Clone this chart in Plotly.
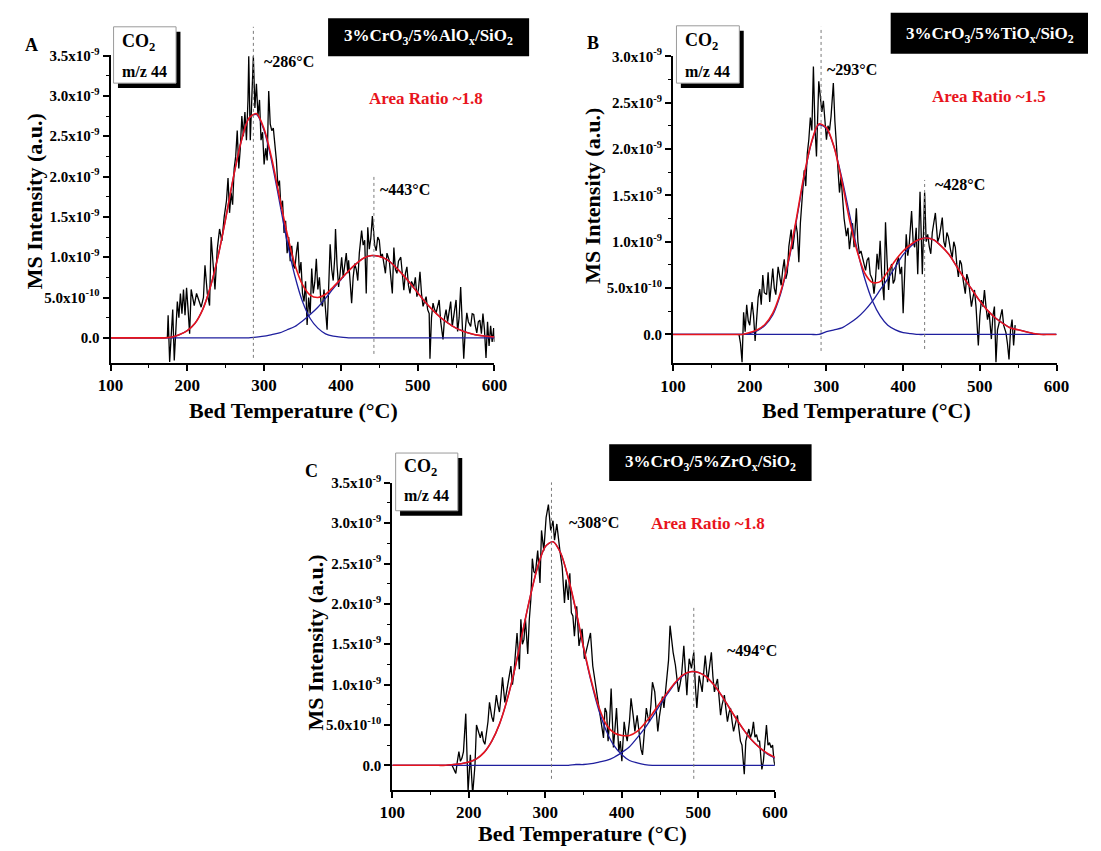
import plotly.graph_objects as go

# ---------------------------------------------------------------- data
# MS signal for CO2 (m/z 44) in units of 1e-9, versus bed temperature (°C)
A_temp = [174,175,177,179,181,183,185,187,189,191,
          193,195,197,199,201,203,205,207,209,212,
          215,218,221,223,226,229,231,234,236,239,
          242,245,248,251,253,255,257,259,261,263,
          265,267,269,271,273,275,277,279,280,282,
          284,286,288,290,292,294,296,298,300,302,
          304,306,308,310,312,314,316,318,320,322,
          324,326,328,330,332,334,336,338,340,342,
          344,346,348,350,352,354,356,358,360,362,
          364,366,368,370,372,374,376,378,380,382,
          384,386,388,390,392,393,395,397,399,401,
          403,405,407,409,410,412,414,416,418,420,
          422,424,426,427,429,431,433,435,437,439,
          441,443,444,446,448,450,452,454,456,458,
          460,463,465,467,469,471,473,475,478,480,
          482,484,486,488,490,492,495,497,499,501,
          503,505,507,509,511,513,515,516,518,520,
          522,524,526,528,530,533,535,537,539,541,
          543,545,547,550,552,554,556,558,560,562,
          564,566,569,571,573,575,577,579,581,583,
          585,587,589,591,593,595,597,599,600]
A_signal = [0.00,0.28,-0.30,0.05,0.35,-0.28,0.20,0.45,0.25,0.55,
            0.30,0.60,0.28,0.62,0.35,0.05,0.60,0.50,0.40,0.55,
            0.45,0.38,0.50,0.90,0.55,0.40,1.25,0.85,0.60,1.10,
            1.35,1.20,1.50,1.70,1.98,1.55,1.80,1.65,2.10,2.25,
            2.57,2.10,2.35,2.75,2.50,2.80,2.45,2.95,3.49,2.45,
            3.10,3.49,2.85,3.15,2.75,2.95,2.45,2.55,2.15,2.35,
            2.20,3.06,2.65,2.57,2.60,2.41,2.20,1.88,1.95,1.60,
            1.70,1.30,1.45,1.05,1.25,0.95,1.14,0.90,0.86,1.05,
            1.19,0.80,0.94,0.55,0.45,0.70,0.16,0.50,0.30,0.86,
            0.55,0.69,0.98,0.60,0.75,0.45,0.39,0.60,0.35,0.10,
            0.60,1.16,0.85,0.71,1.00,1.35,0.90,0.63,0.80,1.00,
            0.75,0.88,1.05,0.80,0.96,0.70,0.43,0.75,0.92,0.85,
            0.71,1.05,1.20,1.33,1.15,1.21,0.55,1.37,1.10,1.24,
            1.51,1.30,1.15,1.08,1.25,1.21,1.00,1.04,0.90,0.80,
            1.05,0.96,0.75,0.55,1.12,0.85,0.80,0.95,1.00,0.75,
            0.59,0.80,0.88,0.65,0.55,0.70,0.63,0.75,0.51,0.60,
            0.82,0.55,0.39,0.45,0.51,0.35,0.30,-0.26,0.25,0.43,
            0.35,0.31,0.40,0.47,0.20,-0.02,0.25,0.35,0.20,0.31,
            0.45,0.14,0.30,0.47,0.08,0.25,0.63,0.20,-0.26,0.10,
            0.31,0.20,0.14,0.30,0.29,0.15,0.06,0.20,0.22,0.05,
            0.30,0.10,-0.25,0.20,-0.10,0.15,-0.05,0.12,-0.05]

B_temp = [186,188,190,192,194,196,198,200,203,205,
          207,209,211,213,215,217,219,222,224,226,
          228,230,232,234,237,239,241,243,245,247,
          249,251,254,256,258,260,262,264,266,268,
          271,273,275,277,279,281,283,285,287,290,
          292,294,296,298,300,302,304,306,309,311,
          313,315,317,319,321,323,326,328,330,332,
          334,336,339,341,343,345,347,349,351,353,
          355,357,360,362,364,366,368,370,372,375,
          377,379,381,383,385,387,389,391,394,396,
          398,400,402,404,406,408,411,413,415,417,
          419,422,425,428,430,432,434,436,438,440,
          442,445,447,449,451,453,455,457,459,462,
          464,466,468,470,472,474,476,478,481,483,
          485,487,489,491,493,495,498,500,502,504,
          506,508,510,512,515,517,519,521,523,525,
          527,529,531,534,536,538,540,542,544,546]
B_signal = [0.00,-0.10,-0.30,0.24,0.03,0.32,0.15,0.10,0.35,0.20,
            -0.07,0.18,0.40,0.49,0.32,0.64,0.45,0.43,0.67,0.35,
            0.55,0.71,0.50,0.43,0.73,0.60,0.53,0.70,0.81,0.60,
            0.67,0.95,1.13,0.92,1.05,1.20,1.10,0.78,1.20,1.45,
            1.77,1.60,1.95,2.10,2.34,2.20,2.89,2.24,1.92,2.73,
            2.56,2.40,2.52,2.30,2.10,2.25,2.20,2.35,2.71,2.30,
            2.06,1.80,1.53,1.70,1.42,1.25,1.06,1.15,0.92,1.05,
            1.20,0.94,1.36,1.00,0.87,0.90,0.83,0.75,0.69,0.80,
            0.83,0.65,0.59,0.44,0.60,0.87,0.70,1.01,0.65,0.37,
            1.21,0.80,0.48,0.70,0.76,0.55,0.59,0.75,0.83,0.65,
            0.73,0.23,0.75,1.08,0.85,0.98,1.33,1.00,0.94,1.15,
            0.65,1.54,0.65,1.53,1.00,1.08,0.95,0.87,1.10,1.20,
            1.31,1.00,1.05,1.15,1.26,1.00,0.94,1.10,1.05,0.90,
            0.83,1.00,0.94,0.75,0.62,0.80,0.76,0.60,0.44,0.65,
            0.59,0.45,0.30,0.40,0.48,0.30,-0.12,0.20,0.37,0.30,
            0.48,0.30,0.16,0.25,-0.05,0.20,0.30,-0.30,0.05,0.12,
            0.20,0.27,0.10,0.02,-0.10,-0.27,0.05,0.16,-0.12,0.10]

C_temp = [178,181,183,185,187,189,191,193,196,199,
          202,205,208,210,213,215,217,219,221,223,
          225,227,230,232,234,236,238,240,242,244,
          247,249,251,253,255,257,259,261,263,266,
          268,270,272,274,277,279,281,283,285,287,
          290,293,295,298,301,304,307,310,312,315,
          317,319,322,325,327,330,332,334,336,338,
          341,344,348,351,355,359,362,364,366,368,
          370,372,374,376,378,380,382,384,386,389,
          391,393,396,398,400,403,405,407,410,412,
          415,417,420,423,425,427,430,432,434,436,
          438,440,443,445,447,449,451,453,455,457,
          459,461,463,465,467,470,472,474,476,478,
          481,483,485,486,488,491,494,496,498,501,
          503,505,507,509,512,514,517,519,521,523,
          525,527,529,531,534,536,538,540,542,544,
          546,548,551,553,555,557,560,562,564,566,
          568,570,572,574,576,578,580,583,585,587,
          589,591,593,595,597,599,600]
C_signal = [0.00,-0.05,-0.10,0.05,0.17,0.05,0.09,0.17,0.64,-0.32,
            0.13,-0.36,0.00,0.50,0.40,0.34,0.42,0.30,0.26,0.40,
            0.54,0.78,0.60,0.54,0.70,0.87,0.75,0.66,0.85,1.09,
            0.78,0.90,0.99,1.10,1.23,1.00,1.15,1.40,1.64,1.19,
            1.81,1.50,1.56,1.81,1.38,1.80,2.05,2.56,2.40,2.38,
            2.66,2.26,2.91,2.66,3.07,3.23,2.91,3.03,2.79,2.99,
            2.80,2.66,2.46,2.01,2.30,2.05,2.38,1.89,1.85,1.60,
            1.97,1.48,1.69,1.32,1.48,1.64,1.23,1.10,0.99,0.85,
            0.74,0.60,0.50,0.34,0.71,0.66,0.30,0.55,0.95,0.22,
            0.45,0.71,0.17,0.30,0.05,0.54,0.40,0.30,0.55,0.83,
            0.60,0.42,0.62,0.34,0.20,0.13,0.50,0.71,0.60,0.54,
            0.75,1.03,0.91,0.65,0.42,0.60,0.71,0.85,0.71,0.90,
            1.03,1.30,1.73,1.55,1.40,1.24,1.05,0.91,1.00,1.11,
            1.48,1.10,0.87,1.05,1.32,1.20,1.40,1.00,0.71,1.11,
            1.00,0.91,1.15,1.36,1.03,1.20,1.40,1.10,0.91,1.00,
            1.07,0.85,0.62,0.75,0.87,0.70,0.54,0.65,0.71,0.55,
            0.42,0.50,0.62,0.45,0.30,0.25,-0.11,0.30,0.38,0.45,
            0.34,0.40,0.54,0.35,0.38,0.30,0.30,-0.05,0.05,0.30,
            0.50,0.25,0.28,0.22,0.25,0.05,0.00]

# Gaussian deconvolution curves, sampled every 10 °C from 100 to 600 °C (units of 1e-9)
FIT_T = list(range(100, 601, 10))
A_peak1 = [0,0,0,0,0,0,0,0,0.01,0.04,0.09,0.18,0.35,0.63,1.01,1.48,1.99,2.43,2.72,2.77,
           2.57,2.18,1.69,1.19,0.77,0.45,0.24,0.12,0.05,0.02,0.01,
           0,0,0,0,0,0,0,0,0,0,0,0,0,0,0,0,0,0,0,0]
A_peak2 = [0,0,0,0,0,0,0,0,0,0,0,0,0,0,0,0,0,0,0,0.01,
           0.02,0.04,0.06,0.10,0.14,0.21,0.29,0.38,0.49,0.61,0.72,0.83,0.92,0.99,1.02,1.01,
           0.97,0.89,0.79,0.68,0.56,0.44,0.34,0.25,0.18,0.12,0.08,0.05,0.03,0.02,0.01]
A_total = [0,0,0,0,0,0,0,0,0.01,0.04,0.09,0.18,0.35,0.63,1.01,1.48,1.99,2.43,2.72,2.78,
           2.59,2.22,1.75,1.29,0.91,0.66,0.53,0.50,0.54,0.63,0.73,0.83,0.92,0.99,1.02,1.01,
           0.97,0.89,0.79,0.68,0.56,0.44,0.34,0.25,0.18,0.12,0.08,0.05,0.03,0.02,0.01]

B_peak1 = [0,0,0,0,0,0,0,0,0,0,0.01,0.04,0.10,0.21,0.43,0.76,1.19,1.66,2.05,2.26,
           2.22,2.02,1.69,1.30,0.92,0.60,0.36,0.20,0.10,0.05,0.02,0.01,
           0,0,0,0,0,0,0,0,0,0,0,0,0,0,0,0,0,0,0]
B_peak2 = [0,0,0,0,0,0,0,0,0,0,0,0,0,0,0,0,0,0,0,0,
           0.03,0.05,0.07,0.12,0.18,0.26,0.36,0.48,0.60,0.73,0.86,0.95,1.02,1.04,1.02,0.95,
           0.86,0.73,0.60,0.48,0.36,0.26,0.18,0.12,0.07,0.05,0.03,0.01,0,0,0]
B_total = [0,0,0,0,0,0,0,0,0,0,0.02,0.05,0.11,0.23,0.45,0.78,1.21,1.68,2.06,2.27,
           2.23,2.02,1.66,1.24,0.90,0.66,0.56,0.57,0.68,0.80,0.90,0.97,1.02,1.04,1.02,0.95,
           0.86,0.73,0.60,0.48,0.36,0.26,0.18,0.12,0.07,0.05,0.03,0.01,0,0,0]

C_peak1 = [0,0,0,0,0,0,0,0,0.01,0.02,0.04,0.08,0.16,0.30,0.51,0.81,1.19,1.64,2.08,2.46,
           2.71,2.77,2.63,2.32,1.91,1.45,1.03,0.68,0.42,0.24,0.13,0.06,0.03,0.01,
           0,0,0,0,0,0,0,0,0,0,0,0,0,0,0,0,0]
C_peak2 = [0,0,0,0,0,0,0,0,0,0,0,0,0,0,0,0,0,0,0,0,0,0,0,0,
           0.01,0.01,0.02,0.04,0.06,0.10,0.16,0.23,0.34,0.46,0.60,0.75,0.89,1.02,1.11,1.16,
           1.15,1.10,1.00,0.87,0.72,0.57,0.43,0.31,0.22,0.14,0.09]
C_total = [0,0,0,0,0,0,0,0,0.01,0.02,0.04,0.08,0.16,0.30,0.51,0.81,1.19,1.64,2.08,2.46,
           2.71,2.77,2.63,2.32,1.92,1.46,1.05,0.72,0.50,0.40,0.37,0.37,0.42,0.52,0.64,0.78,
           0.91,1.03,1.12,1.16,1.15,1.10,1.00,0.87,0.72,0.57,0.43,0.31,0.22,0.15,0.10]

# labels
PEAK_POS = {"A": (286, 443), "B": (293, 428), "C": (308, 494)}
AREA_RATIO = {"A": "1.8", "B": "1.5", "C": "1.8"}
CATALYST = {
    "A": "3%CrO<sub>3</sub>/5%AlO<sub>x</sub>/SiO<sub>2</sub>",
    "B": "3%CrO<sub>3</sub>/5%TiO<sub>x</sub>/SiO<sub>2</sub>",
    "C": "3%CrO<sub>3</sub>/5%ZrO<sub>x</sub>/SiO<sub>2</sub>",
}
Y_TICKS = {
    0.0: "0.0", 0.5: "5.0x10<sup>-10</sup>", 1.0: "1.0x10<sup>-9</sup>",
    1.5: "1.5x10<sup>-9</sup>", 2.0: "2.0x10<sup>-9</sup>", 2.5: "2.5x10<sup>-9</sup>",
    3.0: "3.0x10<sup>-9</sup>", 3.5: "3.5x10<sup>-9</sup>",
}
X_TICKS = [100, 200, 300, 400, 500, 600]
UNIT = 1e-9

# ---------------------------------------------------------------- layout helpers
W, H = 1101, 851
FONT = "Liberation Serif, Times New Roman, serif"
RED = "#e8141c"
BLUE = "#1f1f9e"


def px(x):
    return x / W


def py(y):
    return 1 - y / H


# plot frames in pixels: left, right, top, bottom; y-range top and bottom (1e-9)
FRAMES = {
    "A": dict(l=99.9, r=493.1, t=46.0, b=356.7, ymax=3.5, ymin=-0.306),
    "B": dict(l=676.0, r=1068.8, t=46.7, b=357.3, ymax=3.0, ymin=-0.309),
    "C": dict(l=388.5, r=780.3, t=478.3, b=789.3, ymax=3.5, ymin=-0.306),
}

SERIES = {
    "A": (A_temp, A_signal, A_peak1, A_peak2, A_total),
    "B": (B_temp, B_signal, B_peak1, B_peak2, B_total),
    "C": (C_temp, C_signal, C_peak1, C_peak2, C_total),
}

fig = go.Figure()
shapes, annotations = [], []
layout_axes = {}

for i, key in enumerate(["A", "B", "C"]):
    n = "" if i == 0 else str(i + 1)
    xa, ya = "x" + n, "y" + n
    f = FRAMES[key]
    temp, sig, p1, p2, tot = SERIES[key]

    fig.add_trace(go.Scatter(x=temp, y=[v * UNIT for v in sig], mode="lines",
                             line=dict(color="black", width=1.3), xaxis=xa, yaxis=ya,
                             showlegend=False, hoverinfo="skip"))
    for comp in (p1, p2):
        fig.add_trace(go.Scatter(x=FIT_T, y=[v * UNIT for v in comp], mode="lines",
                                 line=dict(color=BLUE, width=1.3, shape="spline", smoothing=0.8),
                                 xaxis=xa, yaxis=ya, showlegend=False, hoverinfo="skip"))
    fig.add_trace(go.Scatter(x=FIT_T, y=[v * UNIT for v in tot], mode="lines",
                             line=dict(color=RED, width=1.6, shape="spline", smoothing=0.8),
                             xaxis=xa, yaxis=ya, showlegend=False, hoverinfo="skip"))

    yt = [v for v in Y_TICKS if v <= f["ymax"] + 1e-9]
    minor_y = [v / 4 * UNIT for v in range(1, int(f["ymax"] * 4) + 1) if v % 2 == 1]
    layout_axes["xaxis" + n] = dict(
        domain=[px(f["l"]), px(f["r"])], anchor=ya, range=[100, 600],
        tickmode="array", tickvals=X_TICKS, ticktext=[str(t) for t in X_TICKS],
        ticks="outside", ticklen=6, tickwidth=1.5, tickcolor="black",
        minor=dict(tickmode="array", tickvals=[150, 250, 350, 450, 550],
                   ticks="outside", ticklen=3, tickwidth=1.2, tickcolor="black"),
        showline=True, linewidth=2, linecolor="black", showgrid=False, zeroline=False,
        tickfont=dict(family=FONT, size=17, color="black", weight="bold"),
    )
    layout_axes["yaxis" + n] = dict(
        domain=[py(f["b"]), py(f["t"])], anchor=xa,
        range=[f["ymin"] * UNIT, f["ymax"] * UNIT * 1.0004],
        tickmode="array", tickvals=[v * UNIT for v in yt], ticktext=[Y_TICKS[v] for v in yt],
        ticks="outside", ticklen=6, tickwidth=1.5, tickcolor="black",
        minor=dict(tickmode="array", tickvals=minor_y,
                   ticks="outside", ticklen=3, tickwidth=1.2, tickcolor="black"),
        showline=True, linewidth=2, linecolor="black", showgrid=False, zeroline=False,
        tickfont=dict(family=FONT, size=15, color="black", weight="bold"),
    )

# ---------------------------------------------------------------- decorations
# peak markers (dotted verticals): x in data units, vertical extent in pixels
DROP_LINES = {
    "A": [(17, 352), (168, 348)],
    "B": [(17, 345), (172, 343)],
    "C": [(478, 778), (603, 778)],
}
# pixel anchors for the text pieces of each panel
TEXT_POS = {
    "A": dict(letter=(19, 35), ytitle=(22, 193), xtitle=(287.5, 405),
              co2=(103, 17, 167, 74), co2_text=(110, 33, 62),
              cat_box=(322.7, 8.3, 528.6, 46.7), cat_text=(425.6, 27),
              peaks=[(255, 52), (373.6, 182)], ratio=(422.5, 90)),
    "B": dict(letter=(593.7, 33), ytitle=(594, 188), xtitle=(874.5, 405),
              co2=(679.5, 16, 743.9, 74), co2_text=(686.7, 32, 62),
              cat_box=(898.9, 2.7, 1101, 44.3), cat_text=(1000.7, 25),
              peaks=[(831.6, 60), (942.5, 177)], ratio=(999.8, 88)),
    "C": dict(letter=(305.8, 466.7), ytitle=(309.3, 640), xtitle=(583, 833),
              co2=(391.9, 448.3, 455.6, 506.7), co2_text=(398.8, 463, 491.7),
              cat_box=(610.6, 439.3, 817.9, 476.7), cat_text=(713.9, 458.3),
              peaks=[(567.5, 518.3), (729.4, 648.3)], ratio=(711.3, 520)),
}


def text(x, y, s, size, color="black", xanchor="center", angle=0):
    annotations.append(dict(x=px(x), y=py(y), xref="paper", yref="paper", text=s,
                            showarrow=False, xanchor=xanchor, yanchor="middle",
                            textangle=angle,
                            font=dict(family=FONT, size=size, color=color)))


for i, key in enumerate(["A", "B", "C"]):
    n = "" if i == 0 else str(i + 1)
    tp = TEXT_POS[key]

    for temp_c, (y0, y1) in zip(PEAK_POS[key], DROP_LINES[key]):
        shapes.append(dict(type="line", xref="x" + n, yref="paper", x0=temp_c, x1=temp_c,
                           y0=py(y1), y1=py(y0),
                           line=dict(color="#7a7a7a", width=1, dash="dot")))

    # gas label box with drop shadow
    x0, y0, x1, y1 = tp["co2"]
    shapes.append(dict(type="rect", xref="paper", yref="paper",
                       x0=px(x0 + 4.5), x1=px(x1 + 4.5), y0=py(y1 + 5), y1=py(y0 + 5),
                       fillcolor="black", line=dict(width=0)))
    shapes.append(dict(type="rect", xref="paper", yref="paper",
                       x0=px(x0), x1=px(x1), y0=py(y1), y1=py(y0),
                       fillcolor="white", line=dict(color="#9a9a9a", width=1)))
    cx, cy1, cy2 = tp["co2_text"]
    text(cx, cy1, "<b>CO<sub>2</sub></b>", 18, xanchor="left")
    text(cx, cy2, "<b>m/z 44</b>", 16, xanchor="left")

    # catalyst name in a black box
    x0, y0, x1, y1 = tp["cat_box"]
    shapes.append(dict(type="rect", xref="paper", yref="paper",
                       x0=px(x0), x1=px(x1), y0=py(y1), y1=py(y0),
                       fillcolor="black", line=dict(width=0)))
    text(*tp["cat_text"], "<b>" + CATALYST[key] + "</b>", 17, color="white")

    text(*tp["letter"], "<b>" + key + "</b>", 18)
    for temp_c, (lx, ly) in zip(PEAK_POS[key], tp["peaks"]):
        text(lx, ly, "<b>~%d°C</b>" % temp_c, 16, xanchor="left")
    text(*tp["ratio"], "<b>Area Ratio ~%s</b>" % AREA_RATIO[key], 17, color=RED)
    text(*tp["ytitle"], "<b>MS Intensity (a.u.)</b>", 22, angle=-90)
    text(*tp["xtitle"], "<b>Bed Temperature (°C)</b>", 22)

fig.update_layout(
    width=W, height=H, margin=dict(l=0, r=0, t=0, b=0),
    paper_bgcolor="white", plot_bgcolor="white",
    shapes=shapes, annotations=annotations, showlegend=False,
    **layout_axes,
)

fig.write_html("out.html")
